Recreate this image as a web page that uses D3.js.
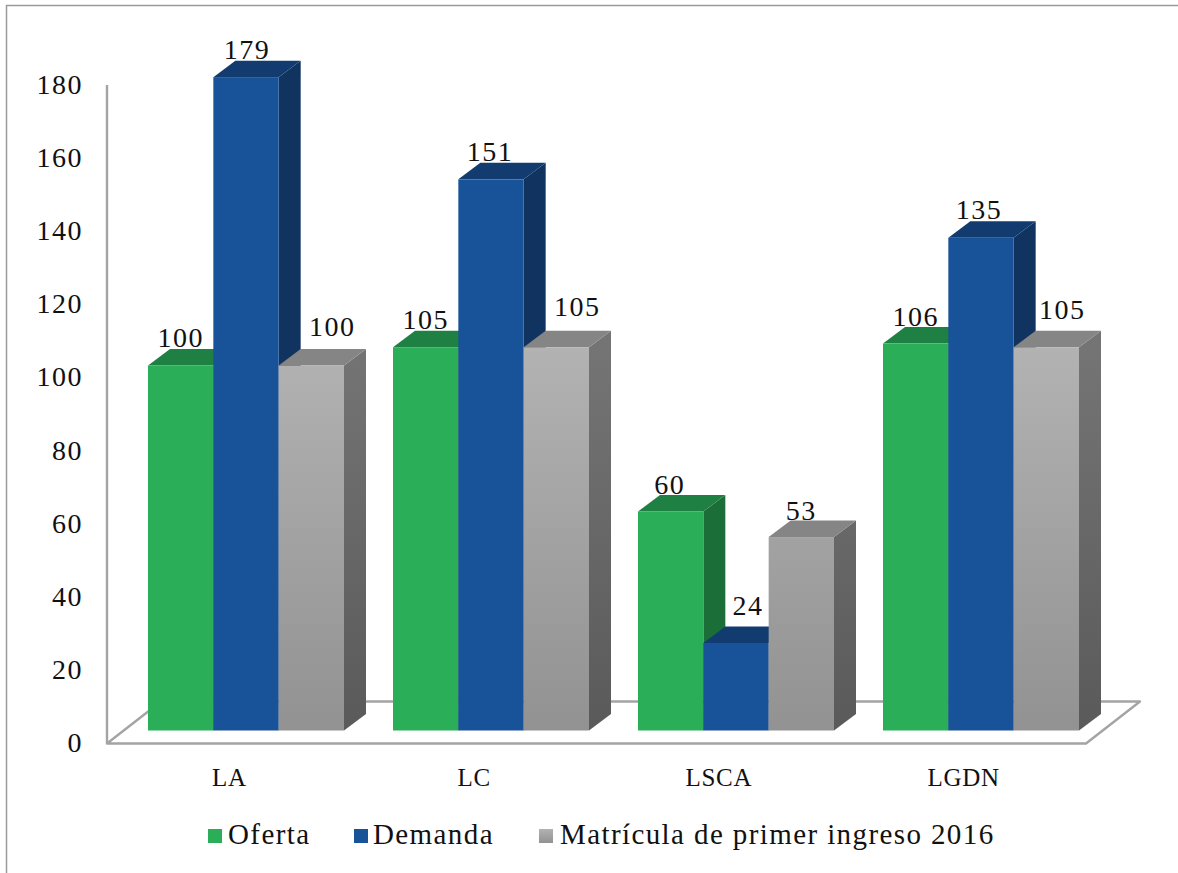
<!DOCTYPE html>
<html><head><meta charset="utf-8">
<script src="https://cdn.jsdelivr.net/npm/d3@7/dist/d3.min.js"></script>
<style>html,body{margin:0;padding:0;background:#fff;overflow:hidden}svg{display:block}
text{font-family:"Liberation Serif",serif;fill:#111}</style></head><body>
<svg id="c" width="1178" height="873"></svg>
<script>
const categories = ["LA","LC","LSCA","LGDN"];
const seriesNames = ["Oferta","Demanda","Matrícula de primer ingreso 2016"];
const oferta = [100,105,60,106];
const demanda = [179,151,24,135];
const matricula = [100,105,53,105];
const yTicks = [0,20,40,60,80,100,120,140,160,180];

const W=1178,H=873, dx=22, dy=-16.5;
// manual label nudges [dx,dy] from the default spot, by series then category
const labelNudge=[
 [[0,-2],[0,-2],[-1,-1],[0,-1]],
 [[1,-2],[-1,-2],[12,-11],[-2,-2]],
 [[21,-13],[21,-15],[0,-1],[16,-12]]
];
const svg=d3.select("#c");
const defs=svg.append("defs");
const series=[
 {name:seriesNames[0],vals:oferta,front:"#2bae58",top:"#1f8043",side:"#1b6e38"},
 {name:seriesNames[1],vals:demanda,front:"#185299",top:"#123c70",side:"#10345f"},
 {name:seriesNames[2],vals:matricula,grad:true,front:"#a3a3a3",top:"#858585",side:"#666"}
];
function grad(id,a,b){const g=defs.append("linearGradient").attr("id",id).attr("gradientUnits","userSpaceOnUse")
 .attr("x1",0).attr("x2",0).attr("y1",350).attr("y2",730);
 g.append("stop").attr("offset",0).attr("stop-color",a);g.append("stop").attr("offset",1).attr("stop-color",b);}
grad("gf","#b2b2b2","#929292");grad("gs","#747474","#5a5a5a");
const gl=defs.append("linearGradient").attr("id","gl").attr("x1",0).attr("x2",0).attr("y1",0).attr("y2",1);
gl.append("stop").attr("offset",0).attr("stop-color","#b2b2b2");gl.append("stop").attr("offset",1).attr("stop-color","#929292");

svg.append("path").attr("d","M1178,5.5H6.5V873").attr("fill","none").attr("stroke","#9a9a9a").attr("stroke-width",1.5);

const yAxisScale=d3.scaleLinear().domain([0,180]).range([743.5,85]);
const yBar=d3.scaleLinear().domain([0,180]).range([730.5,73.5]);
const xAxisScale=d3.scaleBand().domain(categories).range([107,1086]);
const xGroup=d3.scaleBand().domain(categories).range([148,1079]).paddingInner(0.2);
const xSub=d3.scaleBand().domain(seriesNames).range([0,xGroup.bandwidth()]);

// floor and back of the value axis
const floorC="#a4a4a4";
const f0=yAxisScale(0), fx0=xAxisScale.range()[0], fx1=xAxisScale.range()[1], fdx=54, fdy=-42;
svg.append("path").attr("d",`M${fx0},85V${f0}H${fx1}L${fx1+fdx},${f0+fdy}H${fx0+fdx}L${fx0},${f0}`)
 .attr("fill","none").attr("stroke",floorC).attr("stroke-width",2.4).attr("stroke-linejoin","round");

// axes
const ya=svg.append("g").attr("transform","translate(83,-0.8)").call(d3.axisLeft(yAxisScale).tickValues(yTicks).tickSize(0).tickPadding(0));
ya.select(".domain").remove();
ya.selectAll("text").style("font-size","28px").style("letter-spacing","1.5px");
const xa=svg.append("g").attr("transform","translate(0,786)").call(d3.axisBottom(xAxisScale).tickSize(0).tickPadding(0));
xa.select(".domain").remove();
xa.selectAll("text").attr("dy",0).style("font-size","25px").style("letter-spacing","0.7px");

// bars: side + top + front, drawn left to right
categories.forEach((c,i)=>{
 series.forEach(s=>{
  const x0=xGroup(c)+xSub(s.name), w=xSub.bandwidth(), x1=x0+w, t=yBar(s.vals[i]), b=yBar(0);
  const g=svg.append("g");
  g.append("path").attr("d",`M${x1},${t}l${dx},${dy}V${b+dy}l${-dx},${-dy}Z`).attr("fill",s.grad?"url(#gs)":s.side);
  g.append("path").attr("d",`M${x0},${t}l${dx},${dy}H${x1+dx}l${-dx},${-dy}Z`).attr("fill",s.top);
  g.append("rect").attr("x",x0).attr("y",t).attr("width",w).attr("height",b-t).attr("fill",s.grad?"url(#gf)":s.front);
 });
});
// value labels on top
categories.forEach((c,i)=>series.forEach((s,k)=>{
 const x=xGroup(c)+xSub(s.name)+xSub.bandwidth()/2+labelNudge[k][i][0];
 svg.append("text").attr("x",x).attr("y",yBar(s.vals[i])+dy+labelNudge[k][i][1]).attr("text-anchor","middle")
  .style("font-size","28px").style("letter-spacing","1.5px").text(s.vals[i]);
}));

// legend
const legX=[208,354,539], legT=[228,373,560];
series.forEach((s,k)=>{
 svg.append("rect").attr("x",legX[k]).attr("y",829).attr("width",14).attr("height",14).attr("fill",s.grad?"url(#gl)":s.front);
 svg.append("text").attr("x",legT[k]).attr("y",844).style("font-size","29px").style("letter-spacing","1.4px").text(s.name);
});
</script></body></html>
